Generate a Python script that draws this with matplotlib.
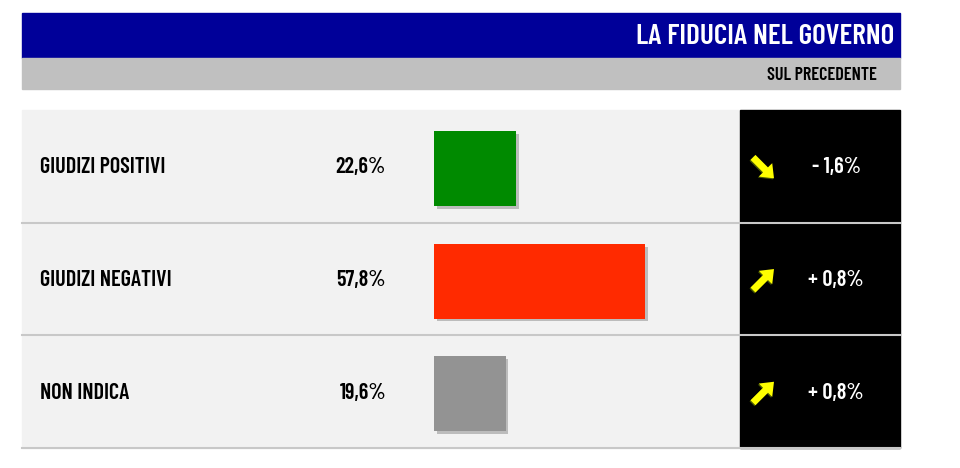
import matplotlib.pyplot as plt
import matplotlib.patheffects as pe
from matplotlib.patches import Rectangle, FancyArrow

plt.rcParams['font.family'] = ['Barlow Condensed', 'DejaVu Sans']

title = "LA FIDUCIA NEL GOVERNO"
subtitle = "SUL PRECEDENTE"
categories = ["GIUDIZI POSITIVI", "GIUDIZI NEGATIVI", "NON INDICA"]
values = [22.6, 57.8, 19.6]
value_labels = ["22,6%", "57,8%", "19,6%"]
colors = ["#008a00", "#ff2a00", "#939393"]
changes = ["- 1,6%", "+ 0,8%", "+ 0,8%"]
directions = [-1, 1, 1]

fig = plt.figure(figsize=(9.6, 4.68), dpi=100)
ax = fig.add_axes([0, 0, 1, 1])
ax.set_xlim(0, 960)
ax.set_ylim(468, 0)
ax.axis("off")

# header
ax.add_patch(Rectangle((22, 13), 878, 45, color="#000099"))
ax.add_patch(Rectangle((22, 58), 878, 31, color="#c0c0c0"))
ax.text(894, 36, title, color="white", fontsize=21, fontweight="semibold",
        ha="right", va="center")
ax.text(877, 75, subtitle, color="black", fontsize=13, fontweight="semibold",
        ha="right", va="center")

# table body
top, row_h = 110, 112.7
ax.add_patch(Rectangle((22, top), 718, 3 * row_h, color="#f2f2f2"))
ax.add_patch(Rectangle((740, top), 160, 3 * row_h, color="black"))
for i in range(1, 4):
    y = top + i * row_h
    ax.plot([22, 900], [y, y], color="#c8c8c8", lw=1.5)

for i, (cat, lab, ch, d) in enumerate(zip(categories, value_labels, changes, directions)):
    yc = top + (i + 0.5) * row_h + 1
    ax.text(40, yc, cat, fontsize=16, fontweight="semibold", ha="left", va="center")
    ax.text(386, yc, lab, fontsize=16, fontweight="semibold", ha="right", va="center")
    ax.text(836, yc, ch, color="white", fontsize=16, fontweight="semibold",
            ha="center", va="center")
    # yellow arrow: down-right for a drop, up-right for a rise
    x0, y0 = 753, yc + 10 * d
    kw = dict(width=7, head_width=19, head_length=12, length_includes_head=True, lw=0)
    ax.add_patch(FancyArrow(x0 - 1, y0 + 1, 21, -21 * d, color="#4a5a00", **kw))
    ax.add_patch(FancyArrow(x0, y0, 21, -21 * d, color="#ffff00", **kw))

# bars
bax = fig.add_axes([434 / 960, 1 - 448 / 468, 306 / 960, 3 * row_h / 468])
bax.set_xlim(0, 306 / 3.65)
bax.set_ylim(2.5, -0.5)
bax.axis("off")
bars = bax.barh([i + 0.02 for i in range(len(values))], values, height=0.665, color=colors)
for b in bars:
    b.set_path_effects([pe.SimplePatchShadow(offset=(2, -2), shadow_rgbFace="#999999", alpha=0.6),
                        pe.Normal()])

fig.savefig("out.png", dpi=100)
